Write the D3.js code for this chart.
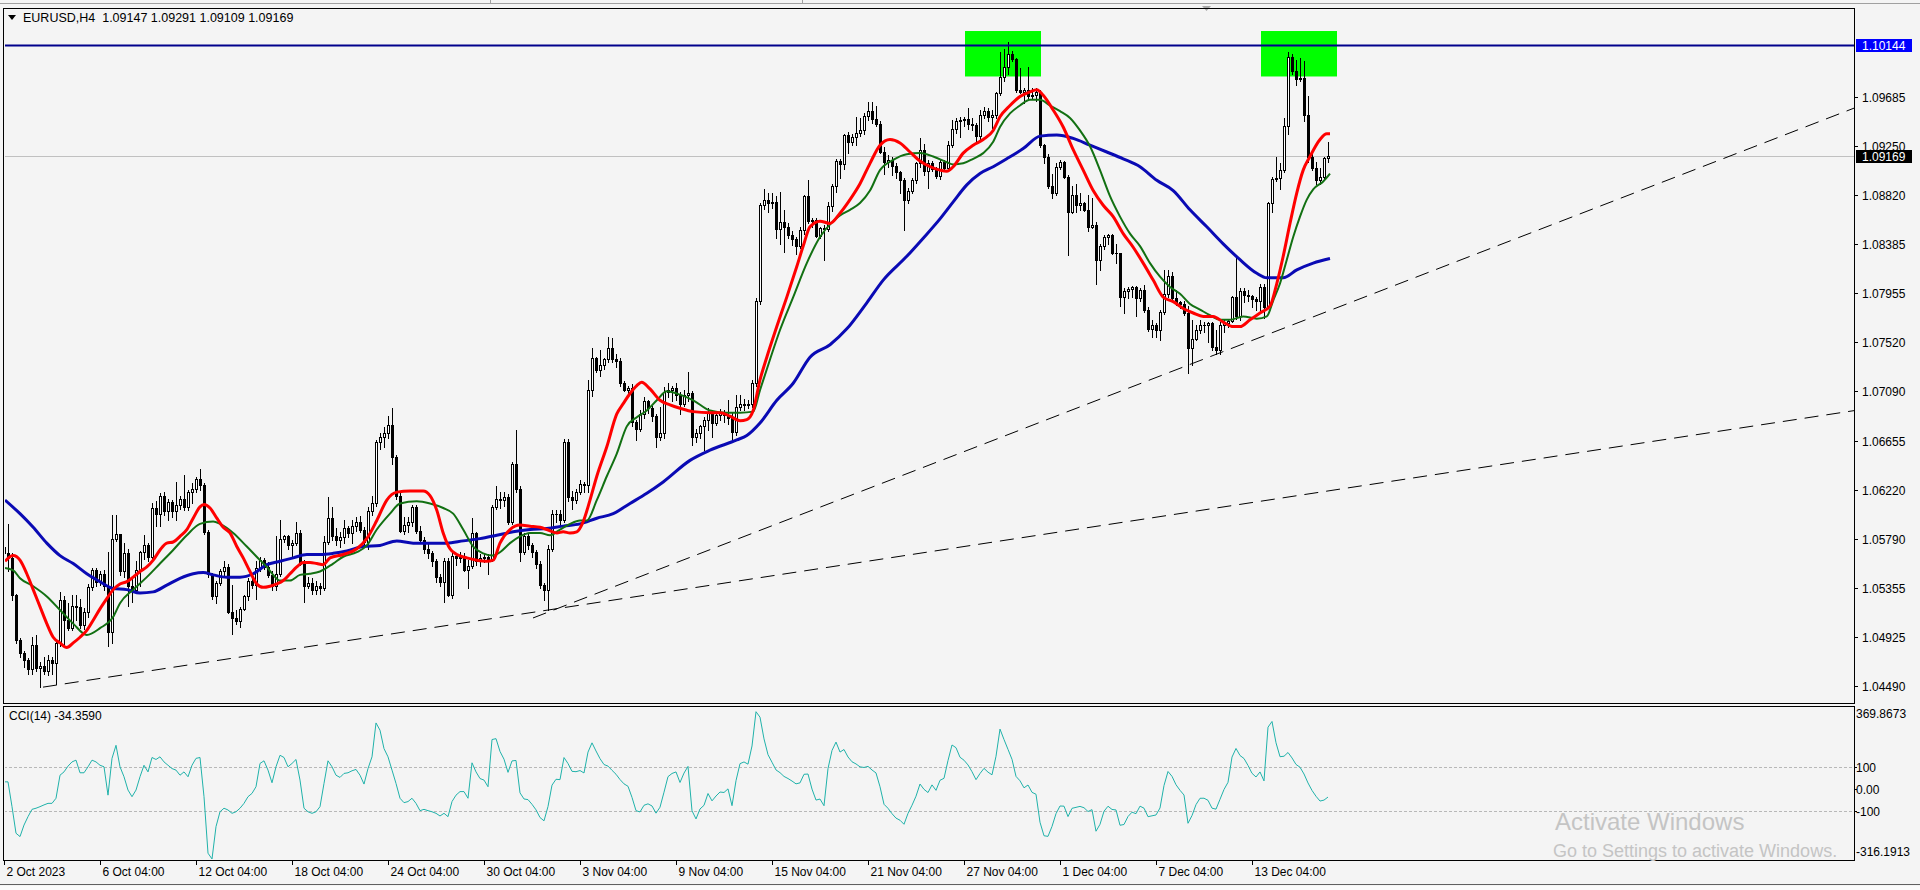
<!DOCTYPE html>
<html><head><meta charset="utf-8">
<script src="https://cdn.jsdelivr.net/npm/d3@7"></script>
<style>
body{margin:0;background:#f4f4f4;overflow:hidden}
svg{display:block}
text{font-family:"Liberation Sans",Arial,sans-serif;font-size:12px;fill:#000}
</style></head>
<body><svg id="c" width="1920" height="890"></svg>
<script>
// ---------------- DATA ----------------
const symbol = "EURUSD,H4";
const firstOpen = 1.0572;
const closes = [1.0566,1.0562,1.0529,1.0490,1.0478,1.0472,1.0464,1.0485,1.0465,1.0467,1.0462,1.0472,1.0469,1.0487,1.0525,1.0507,1.0500,1.0520,1.0519,1.0503,
1.0514,1.0536,1.0551,1.0541,1.0548,1.0537,1.0497,1.0579,1.0583,1.0550,1.0566,1.0537,1.0534,1.0551,1.0567,1.0573,1.0563,1.0606,1.0601,1.0617,
1.0603,1.0611,1.0603,1.0609,1.0614,1.0607,1.0620,1.0623,1.0632,1.0626,1.0585,1.0548,1.0528,1.0540,1.0550,1.0554,1.0514,1.0509,1.0506,1.0517,
1.0528,1.0542,1.0538,1.0553,1.0560,1.0554,1.0547,1.0537,1.0548,1.0579,1.0581,1.0573,1.0575,1.0584,1.0557,1.0537,1.0540,1.0534,1.0537,1.0535,
1.0576,1.0597,1.0581,1.0578,1.0580,1.0588,1.0584,1.0590,1.0594,1.0587,1.0576,1.0603,1.0610,1.0664,1.0669,1.0672,1.0679,1.0651,1.0617,1.0586,
1.0591,1.0594,1.0607,1.0586,1.0578,1.0570,1.0566,1.0559,1.0545,1.0541,1.0559,1.0529,1.0564,1.0562,1.0563,1.0551,1.0555,1.0584,1.0559,1.0562,
1.0563,1.0561,1.0607,1.0614,1.0613,1.0616,1.0594,1.0645,1.0623,1.0567,1.0581,1.0573,1.0567,1.0557,1.0538,1.0534,1.0570,1.0601,1.0601,1.0595,
1.0664,1.0616,1.0613,1.0620,1.0627,1.0626,1.0710,1.0738,1.0728,1.0732,1.0737,1.0747,1.0737,1.0736,1.0716,1.0710,1.0712,1.0682,1.0676,1.0689,
1.0700,1.0694,1.0687,1.0669,1.0672,1.0708,1.0710,1.0712,1.0706,1.0698,1.0706,1.0707,1.0669,1.0672,1.0678,1.0684,1.0691,1.0681,1.0688,1.0690,
1.0688,1.0685,1.0673,1.0695,1.0698,1.0697,1.0698,1.0716,1.0789,1.0873,1.0878,1.0875,1.0876,1.0852,1.0858,1.0854,1.0847,1.0843,1.0837,1.0851,
1.0881,1.0859,1.0860,1.0846,1.0853,1.0852,1.0872,1.0890,1.0912,1.0909,1.0935,1.0929,1.0933,1.0937,1.0939,1.0952,1.0956,1.0949,1.0945,1.0920,
1.0911,1.0913,1.0908,1.0902,1.0895,1.0878,1.0886,1.0895,1.0910,1.0922,1.0903,1.0910,1.0905,1.0899,1.0911,1.0906,1.0926,1.0940,1.0947,1.0948,
1.0949,1.0945,1.0944,1.0934,1.0953,1.0956,1.0951,1.0953,1.0972,1.0986,1.0995,1.1006,1.1002,1.0975,1.0973,1.0975,1.0969,1.0970,1.0973,1.0926,
1.0916,1.0890,1.0884,1.0907,1.0911,1.0898,1.0867,1.0882,1.0873,1.0875,1.0869,1.0854,1.0856,1.0825,1.0837,1.0845,1.0847,1.0831,1.0831,1.0792,
1.0797,1.0799,1.0801,1.0791,1.0798,1.0781,1.0764,1.0767,1.0763,1.0779,1.0795,1.0811,1.0791,1.0788,1.0786,1.0778,1.0747,1.0755,1.0763,1.0767,
1.0767,1.0769,1.0748,1.0745,1.0767,1.0769,1.0771,1.0792,1.0775,1.0797,1.0794,1.0793,1.0790,1.0789,1.0801,1.0783,1.0875,1.0896,1.0897,1.0904,
1.0943,1.1004,1.0991,1.0984,1.0985,1.0953,1.0916,1.0906,1.0895,1.0898,1.09147,1.09169];
const highs = [1.0576,1.0592,1.0566,1.0530,1.0491,1.0480,1.0474,1.0492,1.0494,1.0470,1.0475,1.0476,1.0475,1.0488,1.0532,1.0528,1.0522,1.0529,1.0529,1.0526,
1.0518,1.0539,1.0553,1.0553,1.0550,1.0551,1.0567,1.0600,1.0600,1.0576,1.0575,1.0570,1.0545,1.0559,1.0568,1.0582,1.0575,1.0610,1.0612,1.0619,
1.0620,1.0614,1.0613,1.0629,1.0617,1.0635,1.0622,1.0628,1.0633,1.0640,1.0628,1.0587,1.0549,1.0542,1.0552,1.0559,1.0557,1.0538,1.0516,1.0519,
1.0529,1.0544,1.0545,1.0559,1.0563,1.0562,1.0558,1.0550,1.0581,1.0595,1.0582,1.0582,1.0578,1.0594,1.0587,1.0560,1.0545,1.0544,1.0542,1.0540,
1.0581,1.0616,1.0607,1.0588,1.0585,1.0595,1.0590,1.0595,1.0598,1.0599,1.0589,1.0607,1.0617,1.0666,1.0672,1.0677,1.0687,1.0694,1.0653,1.0619,
1.0598,1.0598,1.0609,1.0609,1.0590,1.0580,1.0575,1.0568,1.0561,1.0548,1.0562,1.0562,1.0566,1.0566,1.0567,1.0566,1.0560,1.0597,1.0585,1.0565,
1.0566,1.0565,1.0609,1.0625,1.0620,1.0620,1.0618,1.0647,1.0675,1.0625,1.0584,1.0583,1.0575,1.0569,1.0559,1.0540,1.0573,1.0604,1.0604,1.0604,
1.0667,1.0667,1.0621,1.0623,1.0631,1.0629,1.0719,1.0747,1.0739,1.0745,1.0738,1.0757,1.0756,1.0742,1.0738,1.0718,1.0714,1.0715,1.0684,1.0692,
1.0704,1.0701,1.0696,1.0689,1.0695,1.0713,1.0716,1.0714,1.0716,1.0708,1.0710,1.0726,1.0709,1.0676,1.0679,1.0686,1.0694,1.0692,1.0691,1.0693,
1.0692,1.0701,1.0691,1.0706,1.0706,1.0702,1.0701,1.0719,1.0791,1.0875,1.0887,1.0884,1.0884,1.0881,1.0885,1.0869,1.0857,1.0850,1.0845,1.0854,
1.0882,1.0895,1.0862,1.0862,1.0854,1.0856,1.0876,1.0892,1.0914,1.0914,1.0936,1.0938,1.0936,1.0951,1.0950,1.0954,1.0964,1.0964,1.0961,1.0947,
1.0924,1.0917,1.0916,1.0910,1.0903,1.0897,1.0888,1.0897,1.0911,1.0932,1.0927,1.0913,1.0912,1.0907,1.0913,1.0913,1.0930,1.0948,1.0950,1.0951,
1.0951,1.0959,1.0950,1.0946,1.0957,1.0960,1.0959,1.0957,1.0973,1.1008,1.1011,1.1017,1.1009,1.1003,1.0994,1.0976,1.0995,1.0976,1.0976,1.0975,
1.0927,1.0918,1.0901,1.0910,1.0913,1.0912,1.0900,1.0890,1.0892,1.0884,1.0876,1.0882,1.0879,1.0858,1.0839,1.0847,1.0848,1.0848,1.0839,1.0829,
1.0800,1.0801,1.0802,1.0802,1.0800,1.0803,1.0783,1.0772,1.0769,1.0781,1.0816,1.0816,1.0814,1.0798,1.0789,1.0789,1.0784,1.0772,1.0767,1.0772,
1.0770,1.0770,1.0770,1.0763,1.0770,1.0772,1.0773,1.0793,1.0828,1.0800,1.0800,1.0798,1.0794,1.0792,1.0804,1.0804,1.0876,1.0898,1.0916,1.0910,
1.0950,1.1008,1.1006,1.1001,1.1003,1.1000,1.0969,1.0919,1.0911,1.0906,1.0916,1.09291];
const lows = [1.0560,1.0550,1.0525,1.0487,1.0475,1.0466,1.0460,1.0460,1.0462,1.0448,1.0460,1.0459,1.0460,1.0451,1.0484,1.0485,1.0498,1.0498,1.0507,1.0500,
1.0499,1.0510,1.0534,1.0537,1.0538,1.0534,1.0484,1.0487,1.0577,1.0547,1.0545,1.0520,1.0523,1.0532,1.0537,1.0561,1.0559,1.0560,1.0590,1.0590,
1.0600,1.0595,1.0598,1.0595,1.0605,1.0604,1.0604,1.0610,1.0620,1.0622,1.0583,1.0545,1.0526,1.0522,1.0538,1.0545,1.0513,1.0495,1.0504,1.0501,
1.0516,1.0525,1.0535,1.0526,1.0550,1.0552,1.0545,1.0534,1.0534,1.0546,1.0576,1.0570,1.0563,1.0573,1.0556,1.0523,1.0535,1.0530,1.0530,1.0530,
1.0534,1.0574,1.0578,1.0573,1.0572,1.0575,1.0580,1.0575,1.0586,1.0585,1.0573,1.0570,1.0600,1.0608,1.0658,1.0660,1.0668,1.0645,1.0614,1.0585,
1.0583,1.0585,1.0590,1.0584,1.0575,1.0566,1.0562,1.0555,1.0541,1.0537,1.0523,1.0528,1.0527,1.0556,1.0558,1.0550,1.0535,1.0553,1.0556,1.0555,
1.0558,1.0548,1.0559,1.0605,1.0606,1.0608,1.0592,1.0592,1.0620,1.0559,1.0565,1.0570,1.0563,1.0553,1.0535,1.0525,1.0516,1.0568,1.0594,1.0592,
1.0594,1.0612,1.0605,1.0610,1.0618,1.0620,1.0620,1.0705,1.0726,1.0722,1.0729,1.0735,1.0735,1.0730,1.0714,1.0709,1.0705,1.0678,1.0666,1.0674,
1.0685,1.0690,1.0683,1.0660,1.0666,1.0668,1.0704,1.0700,1.0701,1.0689,1.0696,1.0700,1.0662,1.0664,1.0668,1.0657,1.0675,1.0669,1.0679,1.0684,
1.0682,1.0680,1.0666,1.0670,1.0692,1.0692,1.0694,1.0695,1.0714,1.0786,1.0870,1.0867,1.0871,1.0844,1.0839,1.0832,1.0844,1.0838,1.0830,1.0835,
1.0848,1.0857,1.0854,1.0845,1.0844,1.0825,1.0850,1.0868,1.0885,1.0897,1.0905,1.0919,1.0926,1.0926,1.0934,1.0936,1.0948,1.0946,1.0943,1.0919,
1.0901,1.0907,1.0900,1.0897,1.0884,1.0851,1.0875,1.0884,1.0893,1.0907,1.0900,1.0888,1.0903,1.0897,1.0896,1.0903,1.0903,1.0924,1.0937,1.0933,
1.0943,1.0940,1.0939,1.0930,1.0930,1.0950,1.0947,1.0941,1.0950,1.0970,1.0983,1.0989,1.1000,1.0973,1.0972,1.0963,1.0967,1.0967,1.0965,1.0924,
1.0910,1.0888,1.0879,1.0882,1.0905,1.0897,1.0829,1.0866,1.0867,1.0869,1.0868,1.0850,1.0853,1.0804,1.0816,1.0834,1.0839,1.0830,1.0822,1.0784,
1.0778,1.0791,1.0792,1.0775,1.0789,1.0779,1.0762,1.0757,1.0757,1.0754,1.0777,1.0792,1.0789,1.0785,1.0782,1.0776,1.0725,1.0732,1.0754,1.0760,
1.0761,1.0752,1.0745,1.0742,1.0742,1.0761,1.0766,1.0770,1.0773,1.0772,1.0788,1.0789,1.0783,1.0781,1.0779,1.0774,1.0782,1.0867,1.0894,1.0887,
1.0902,1.0936,1.0989,1.0979,1.0983,1.0947,1.0911,1.0904,1.0892,1.0892,1.0895,1.09109];
// moving averages: [bar index, price]
const maRed = [[0.25,1.0559],[2.3,1.0564],[4,1.0560],[5.7,1.0548],[7.3,1.0534],[9,1.0519],[10.7,1.0504],[12.3,1.0492],[14,1.0487],[15.7,1.0483],[17.3,1.0487],[19,1.0492],[20.7,1.0498],[22.3,1.0507],[24,1.0517],[25.7,1.0526],[27.3,1.0534],[29,1.0539],[30.7,1.0541],[32.3,1.0545],[34,1.0550],[35.7,1.0554],[37.3,1.0560],[39,1.0569],[40.7,1.0575],[42.3,1.0576],[44,1.0581],[45.7,1.0587],[47.3,1.0597],[49,1.0607],[50,1.0609],[51.5,1.0606],[53.2,1.0597],[54.8,1.0589],[56.5,1.0584],[58.2,1.0572],[59.8,1.0562],[61.5,1.0550],[63.2,1.0539],[64.8,1.0536],[66.5,1.0537],[68.2,1.0539],[69.8,1.0542],[71.5,1.0548],[73.2,1.0554],[74.8,1.0558],[76.5,1.0558],[78.2,1.0557],[79.8,1.0556],[81.5,1.0562],[84.8,1.0565],[88.2,1.0570],[90.7,1.0579],[93.2,1.0595],[95.7,1.0613],[98.2,1.0620],[101.5,1.0621],[104.8,1.0621],[106.5,1.0617],[108.2,1.0604],[109.8,1.0584],[111.5,1.0570],[113.2,1.0565],[115.7,1.0562],[118.2,1.0560],[120.7,1.0559],[122.3,1.0560],[124,1.0575],[126.5,1.0587],[129,1.0591],[131.5,1.0590],[134,1.0589],[135.7,1.0587],[138.2,1.0584],[139.8,1.0585],[141.5,1.0584],[143.2,1.0585],[144.8,1.0594],[146.5,1.0613],[148.2,1.0634],[150.7,1.0660],[153.2,1.0689],[154.8,1.0698],[156.5,1.0707],[158.2,1.0714],[159.4,1.0717],[161.5,1.0711],[164,1.0701],[166.5,1.0697],[169,1.0694],[172.3,1.0691],[176.5,1.0690],[179,1.0690],[181.5,1.0687],[184,1.0683],[185.7,1.0684],[187.3,1.0692],[189,1.0719],[190.7,1.0739],[193.2,1.0766],[195.7,1.0792],[198.2,1.0819],[199.8,1.0837],[201.5,1.0854],[204,1.0859],[206.5,1.0857],[209,1.0866],[211.5,1.0878],[214,1.0892],[216.5,1.0910],[219,1.0926],[221.5,1.0931],[224,1.0928],[226.5,1.0920],[229,1.0912],[231.5,1.0907],[234,1.0904],[235.7,1.0903],[237.3,1.0907],[239.8,1.0919],[242.3,1.0926],[244.8,1.0931],[247.3,1.0939],[249,1.0951],[251.5,1.0961],[254,1.0969],[256.5,1.0973],[258.2,1.0975],[259.8,1.0970],[262.3,1.0957],[264.8,1.0942],[267.3,1.0922],[269.8,1.0904],[272.3,1.0886],[274.8,1.0873],[277.3,1.0863],[279.8,1.0848],[282.3,1.0836],[284.8,1.0822],[287.3,1.0807],[289.8,1.0792],[292.3,1.0788],[294.8,1.0782],[297.3,1.0778],[299.8,1.0775],[302.3,1.0775],[304.8,1.0770],[307.3,1.0766],[309,1.0766],[311.5,1.0772],[314,1.0778],[316.5,1.0784],[318.2,1.0804],[319.8,1.0828],[321.5,1.0857],[323.2,1.0884],[324.8,1.0904],[326.5,1.0916],[329,1.0931],[330.7,1.0936],[331.5,1.0936]];
const maGreen = [[0.25,1.0553],[2.3,1.0551],[4,1.0544],[7.3,1.0537],[10.7,1.0528],[14,1.0516],[17.3,1.0504],[20.7,1.0494],[24,1.0500],[27.3,1.0510],[29,1.0522],[32.3,1.0534],[35.7,1.0545],[39,1.0557],[42.3,1.0569],[45.7,1.0582],[49,1.0592],[52.3,1.0594],[54,1.0592],[57.3,1.0584],[60.7,1.0572],[64,1.0560],[65.7,1.0554],[67.3,1.0547],[69,1.0542],[71.5,1.0542],[74,1.0547],[76.5,1.0548],[79,1.0550],[82.3,1.0557],[84.8,1.0563],[88.2,1.0567],[90.7,1.0573],[93.2,1.0587],[96.5,1.0601],[99,1.0610],[103.2,1.0612],[106.5,1.0610],[109.8,1.0606],[112.3,1.0601],[114.8,1.0587],[117.3,1.0572],[119.8,1.0566],[122.3,1.0564],[124,1.0567],[126.5,1.0575],[129,1.0581],[131.5,1.0584],[134,1.0584],[136.5,1.0582],[139,1.0587],[141.5,1.0592],[144,1.0595],[145.7,1.0595],[148.2,1.0613],[150.7,1.0634],[153.2,1.0654],[155.7,1.0678],[158.2,1.0686],[160.7,1.0692],[163.2,1.0701],[165.7,1.0709],[169,1.0706],[172.3,1.0701],[176.5,1.0692],[180.7,1.0690],[184,1.0690],[187.3,1.0691],[189,1.0710],[191.5,1.0737],[194,1.0763],[197.3,1.0792],[200.7,1.0822],[204,1.0845],[207.3,1.0859],[209,1.0864],[211.5,1.0869],[214,1.0875],[216.5,1.0886],[219,1.0904],[222.3,1.0913],[225.7,1.0918],[229,1.0919],[232.3,1.0916],[235.7,1.0911],[237.3,1.0909],[239.8,1.0910],[242.3,1.0914],[244.8,1.0919],[247.3,1.0929],[249,1.0942],[251.5,1.0954],[254,1.0961],[256.5,1.0966],[259,1.0966],[261.5,1.0961],[264,1.0956],[266.5,1.0950],[269,1.0939],[271.5,1.0925],[274,1.0904],[276.5,1.0881],[279,1.0863],[281.5,1.0848],[284,1.0837],[286.5,1.0822],[289,1.0810],[291.5,1.0801],[294,1.0795],[296.5,1.0786],[299,1.0781],[301.5,1.0776],[304,1.0772],[306.5,1.0772],[309.8,1.0775],[313.2,1.0773],[315.7,1.0775],[317.3,1.0789],[319,1.0804],[320.7,1.0825],[322.3,1.0845],[324,1.0863],[325.7,1.0878],[327.3,1.0887],[329.8,1.0894],[331.5,1.0901]];
const maBlue = [[0.25,1.0613],[4,1.0601],[7.3,1.0589],[10.7,1.0575],[14,1.0564],[17.3,1.0557],[20.7,1.0548],[24,1.0541],[27.3,1.0535],[30.7,1.0534],[34,1.0531],[37.3,1.0532],[40.7,1.0538],[44,1.0544],[47.3,1.0548],[49.8,1.0549],[52.3,1.0547],[55.7,1.0545],[59,1.0545],[62.3,1.0548],[65.7,1.0556],[69,1.0559],[72.3,1.0562],[75.7,1.0565],[79,1.0565],[82.3,1.0566],[85.7,1.0568],[89.8,1.0572],[94,1.0573],[98.2,1.0577],[102.3,1.0575],[106.5,1.0575],[110.7,1.0575],[114.8,1.0577],[119,1.0579],[123.2,1.0582],[127.3,1.0585],[131.5,1.0587],[135.7,1.0588],[139.8,1.0590],[144,1.0592],[148.2,1.0597],[152.3,1.0601],[156.5,1.0610],[160.7,1.0619],[164.8,1.0629],[171.5,1.0648],[176.5,1.0657],[183.2,1.0666],[185.7,1.0670],[189,1.0681],[193.2,1.0701],[197.3,1.0716],[201.5,1.0739],[206.5,1.0750],[210.7,1.0764],[215.7,1.0787],[219.8,1.0807],[225.7,1.0828],[229.8,1.0844],[234,1.0861],[237.3,1.0876],[240.7,1.0891],[244,1.0901],[247.3,1.0907],[250.7,1.0914],[254.8,1.0923],[259,1.0934],[263.2,1.0935],[267.3,1.0932],[271.5,1.0926],[275.7,1.0920],[279.8,1.0914],[284,1.0907],[288.2,1.0895],[292.3,1.0886],[296.5,1.0869],[300.7,1.0854],[304.8,1.0839],[309,1.0825],[313.2,1.0813],[315.7,1.0809],[319.8,1.0809],[323.2,1.0816],[327.3,1.0822],[331.5,1.0826]];
// CCI values for the first bars; later bars are CCI(14) of the candles above
const cciValues = [32,32,-80,-200,-215,-163,-125,-92,-87,-80,-72,-65,-65,-42,62,77,103,122,130,73,73,100,130,122,107,100,-28,138,197,100,55,-5,-35,-5,55,107,77,142,133,145,122,107,92,85,62,77,55,107,138,142,-35,-290,-316,-170,-103,-87,-95,-110,-103,-87,-65,-35,-20,10,115,127,85,28,100,152,142,100,115,133,40,-87,-103,-110,-103,-80,25,127,100,62,52,70,73,82,88,62,22,92,145,298,265,182,145,85,25,-42,-62,-57,-42,-65,-98,-92,-98,-103,-110,-122,-110,-125,-57,-28,-12,-12,-42,118,77,47,40,10,223,227];
const cciLast = -34.3590;
const cciPeriod = 14;
const cciRange = [-316.1913, 369.8673];
const cciLevels = [100, 0, -100];
const priceTicks = [1.09685,1.09250,1.08820,1.08385,1.07955,1.07520,1.07090,1.06655,1.06220,1.05790,1.05355,1.04925,1.04490];
const timeLabels = ["2 Oct 2023","6 Oct 04:00","12 Oct 04:00","18 Oct 04:00","24 Oct 04:00","30 Oct 04:00","3 Nov 04:00","9 Nov 04:00","15 Nov 04:00","21 Nov 04:00","27 Nov 04:00","1 Dec 04:00","7 Dec 04:00","13 Dec 04:00"];
const timeLabelBars = [0,24,48,72,96,120,144,168,192,216,240,264,288,312];
const resistance = 1.10144;
const trendLines = [[[9.75,1.0448],[462.75,1.0692]],[[132.25,1.0509],[462.75,1.0959]]];
const zones = [[240.25,259.25,1.09866,1.10267],[314.25,333.25,1.09866,1.10267]];

// ---------------- LAYOUT ----------------
const W=1920,H=890;
const P={l:4,r:1854,t:8,b:703};          // main panel
const C={l:4,r:1854,t:706,b:860};        // CCI panel
const svg=d3.select("#c");
const x=d3.scaleLinear().domain([0,462.75]).range([4,1855]);
const y=d3.scaleLinear().domain([1.04490,1.09685]).range([686,97]);
const yc=d3.scaleLinear().domain(cciRange).range([859,707]);
const N=closes.length;
const opens=[firstOpen].concat(closes.slice(0,N-1));

// CCI(14) from the candle data (typical price) for the bars after the read ones
const tp=k=>(highs[k]+lows[k]+closes[k])/3;
function cciAt(i){
  let s=0; for(let k=i-cciPeriod+1;k<=i;k++) s+=tp(k);
  const m=s/cciPeriod; let d=0;
  for(let k=i-cciPeriod+1;k<=i;k++) d+=Math.abs(tp(k)-m);
  d/=cciPeriod; return d===0?0:(tp(i)-m)/(0.015*d);
}
const cciSeries=d3.range(N).map(i=>i<cciValues.length?cciValues[i]:cciAt(i));

svg.append("rect").attr("width",W).attr("height",H).attr("fill","#f4f4f4");
// top strip
svg.append("line").attr("x1",0).attr("x2",W).attr("y1",3.5).attr("y2",3.5).attr("stroke","#a0a0a0");
[490,802].forEach(v=>svg.append("line").attr("x1",v+.5).attr("x2",v+.5).attr("y1",0).attr("y2",3).attr("stroke","#a0a0a0"));
svg.append("path").attr("d","M1202,6 L1211,6 L1206.5,11 Z").attr("fill","#a8a8a8");

const defs=svg.append("defs");
defs.append("clipPath").attr("id","clipP").append("rect").attr("x",P.l+1).attr("y",P.t+1).attr("width",P.r-P.l-1).attr("height",P.b-P.t-1);
defs.append("clipPath").attr("id","clipC").append("rect").attr("x",C.l+1).attr("y",C.t+1).attr("width",C.r-C.l-1).attr("height",C.b-C.t-1);

const gP=svg.append("g").attr("clip-path","url(#clipP)");
// zones (background)
gP.selectAll("rect.zone").data(zones).join("rect").attr("class","zone")
 .attr("x",d=>x(d[0])).attr("width",d=>x(d[1])-x(d[0]))
 .attr("y",d=>y(d[3])).attr("height",d=>y(d[2])-y(d[3])).attr("fill","#00ff00");
// last price line
gP.append("line").attr("x1",P.l).attr("x2",P.r).attr("y1",Math.round(y(closes[N-1]))+.5).attr("y2",Math.round(y(closes[N-1]))+.5).attr("stroke","#c0c0c0");
// candles
const cg=gP.append("g").attr("shape-rendering","crispEdges");
for(let i=0;i<N;i++){
  const cx=Math.round(x(i)), o=opens[i], c=closes[i];
  const yh=Math.round(y(highs[i])), yl=Math.round(y(lows[i]));
  cg.append("line").attr("x1",cx+.5).attr("x2",cx+.5).attr("y1",yh).attr("y2",yl+1).attr("stroke","#000");
  const top=Math.round(y(Math.max(o,c))), bot=Math.round(y(Math.min(o,c)));
  if(bot-top<1){
    cg.append("line").attr("x1",cx-1).attr("x2",cx+2).attr("y1",top+.5).attr("y2",top+.5).attr("stroke","#000");
  } else {
    cg.append("rect").attr("x",cx-.5).attr("y",top+.5).attr("width",2).attr("height",bot-top)
      .attr("fill",c>=o?"#fff":"#000").attr("stroke","#000");
  }
}
// MAs
const maLine=d3.line().x(d=>x(d[0])).y(d=>y(d[1])).curve(d3.curveMonotoneX);
gP.append("path").attr("d",maLine(maBlue)).attr("fill","none").attr("stroke","#0a0ab4").attr("stroke-width",3).attr("stroke-linejoin","round");
gP.append("path").attr("d",maLine(maGreen)).attr("fill","none").attr("stroke","#127012").attr("stroke-width",2).attr("stroke-linejoin","round");
gP.append("path").attr("d",maLine(maRed)).attr("fill","none").attr("stroke","#ff0000").attr("stroke-width",3).attr("stroke-linejoin","round");
// resistance line
gP.append("line").attr("x1",P.l).attr("x2",P.r).attr("y1",Math.round(y(resistance))+.5).attr("y2",Math.round(y(resistance))+.5).attr("stroke","#00008c").attr("stroke-width",2);
// trend lines
gP.selectAll("line.tl").data(trendLines).join("line").attr("class","tl")
 .attr("x1",d=>x(d[0][0])).attr("y1",d=>y(d[0][1])).attr("x2",d=>x(d[1][0])).attr("y2",d=>y(d[1][1]))
 .attr("stroke","#000").attr("stroke-width",1).attr("stroke-dasharray","14,8");

// header
svg.append("path").attr("d","M8,15 L16,15 L12,20 Z").attr("fill","#000");
svg.append("text").attr("x",23).attr("y",22).attr("xml:space","preserve").style("font-size","12.5px")
 .text(symbol+"  "+[opens[N-1],highs[N-1],lows[N-1],closes[N-1]].map(v=>v.toFixed(5)).join(" "));

// price axis
priceTicks.forEach(p=>{
  const yy=Math.round(y(p))+.5;
  svg.append("line").attr("x1",P.r).attr("x2",P.r+4).attr("y1",yy).attr("y2",yy).attr("stroke","#000");
  svg.append("text").attr("x",1862).attr("y",yy).attr("dy","0.35em").text(p.toFixed(5));
});
function priceBox(p,bg){
  const yy=Math.round(y(p));
  svg.append("rect").attr("x",1856).attr("y",yy-6).attr("width",56).attr("height",13).attr("fill",bg);
  svg.append("text").attr("x",1862).attr("y",yy+.5).attr("dy","0.35em").style("fill","#fff").text(p.toFixed(5));
}
priceBox(resistance,"#0000ff");
priceBox(closes[N-1],"#000");

// CCI panel
const gC=svg.append("g").attr("clip-path","url(#clipC)");
[100,-100].forEach(v=>{
  gC.append("line").attr("x1",C.l).attr("x2",C.r).attr("y1",Math.round(yc(v))+.5).attr("y2",Math.round(yc(v))+.5)
   .attr("stroke","#b8b8b8").attr("stroke-dasharray","3,2");
});
const cciLine=d3.line().x((d,i)=>x(i)).y(d=>yc(d));
gC.append("path").attr("d",cciLine(cciSeries)).attr("fill","none").attr("stroke","#20b2aa").attr("stroke-width",1);
svg.append("text").attr("x",9).attr("y",716).attr("dy","0.35em").attr("xml:space","preserve").text("CCI("+cciPeriod+") "+cciLast.toFixed(4));
// CCI axis
svg.append("text").attr("x",1856).attr("y",714).attr("dy","0.35em").text(cciRange[1].toFixed(4));
svg.append("text").attr("x",1856).attr("y",852).attr("dy","0.35em").text(cciRange[0].toFixed(4));
cciLevels.forEach(v=>{
  const yy=Math.round(yc(v))+.5;
  svg.append("line").attr("x1",C.r).attr("x2",C.r+3).attr("y1",yy).attr("y2",yy).attr("stroke","#000");
  svg.append("text").attr("x",1856).attr("y",yy).attr("dy","0.35em").text(v===0?"0.00":String(v));
});

// frames
svg.append("rect").attr("x",P.l-.5).attr("y",P.t+.5).attr("width",P.r-P.l+1).attr("height",P.b-P.t).attr("fill","none").attr("stroke","#000");
svg.append("rect").attr("x",C.l-.5).attr("y",C.t+.5).attr("width",C.r-C.l+1).attr("height",C.b-C.t).attr("fill","none").attr("stroke","#000");

// time axis
timeLabelBars.forEach((b,k)=>{
  const xx=Math.round(x(b))+.5;
  svg.append("line").attr("x1",xx).attr("x2",xx).attr("y1",C.b+1).attr("y2",C.b+5).attr("stroke","#000");
  svg.append("text").attr("x",xx+2).attr("y",872).attr("dy","0.35em").text(timeLabels[k]);
});
// bottom strip
svg.append("line").attr("x1",0).attr("x2",W).attr("y1",884.5).attr("y2",884.5).attr("stroke","#606060");
svg.append("rect").attr("x",0).attr("y",886).attr("width",W).attr("height",4).attr("fill","#fbfbfb");

// windows watermark
svg.append("text").attr("x",1555).attr("y",830).style("font-size","24px").style("fill","#c4c4c4").text("Activate Windows");
svg.append("text").attr("x",1553).attr("y",857).style("font-size","18px").style("fill","#c4c4c4").text("Go to Settings to activate Windows.");
</script></body></html>
